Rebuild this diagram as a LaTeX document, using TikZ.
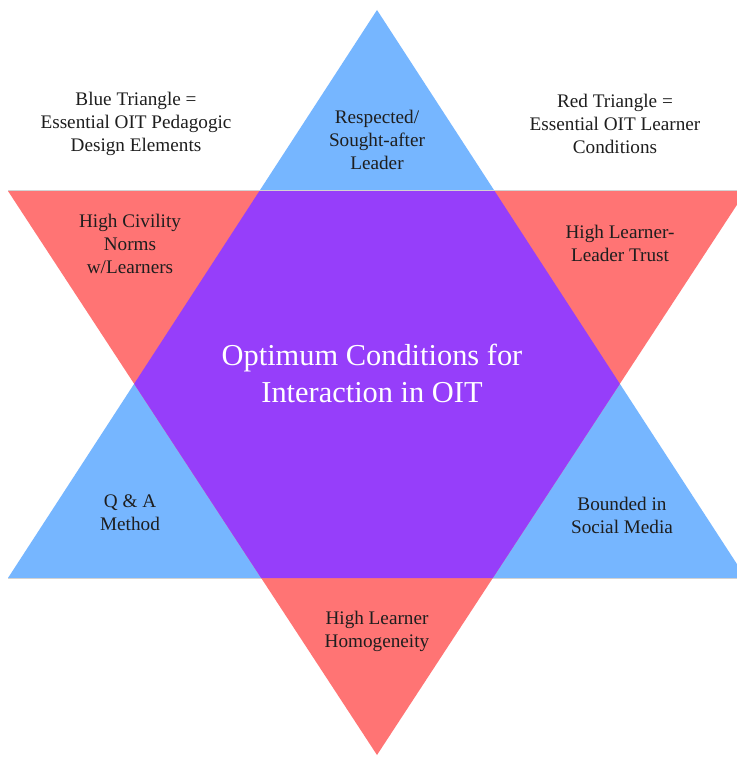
\documentclass[tikz,border=0pt]{standalone}
\usepackage{fontspec}
\setmainfont{Liberation Serif}
\definecolor{bluetri}{RGB}{118,182,255}
\definecolor{redtri}{RGB}{255,116,116}
\definecolor{purp}{RGB}{150,62,250}
\definecolor{txt}{RGB}{30,30,30}
\begin{document}
\begin{tikzpicture}[x=1pt,y=-1pt,
  lbl/.style={align=center,text=txt,font=\fontsize{19.2}{23}\selectfont,inner sep=0pt},
  ctr/.style={align=center,text=white,font=\fontsize{30.4}{37}\selectfont,inner sep=0pt}]
\useasboundingbox (0,0) rectangle (736,757);
\fill[white] (0,0) rectangle (736,757);
% blue triangle
\fill[bluetri] (377,10) -- (8,578) -- (746,578) -- cycle;
\draw[gray!35,line width=0.6pt] (8,578.5) -- (746,578.5);
% red triangle
\fill[redtri] (8,191) -- (746,191) -- (377,755) -- cycle;
\draw[gray!35,line width=0.6pt] (8,190.5) -- (746,190.5);
% purple overlap
\begin{scope}
\clip (377,10) -- (8,578) -- (746,578) -- cycle;
\fill[purp] (8,191) -- (746,191) -- (377,755) -- cycle;
\end{scope}
\node[lbl] (blue) at (136,124) {Blue Triangle =\\Essential OIT Pedagogic\\Design Elements};
\node[lbl] (red) at (615,124) {Red Triangle =\\Essential OIT Learner\\Conditions};
\node[lbl] (top) at (377,140) {Respected/\\Sought-after\\Leader};
\node[lbl] (tl) at (130,244) {High Civility\\Norms\\w/Learners};
\node[lbl] (tr) at (620,243) {High Learner-\\Leader Trust};
\node[ctr] (center) at (372,373) {Optimum Conditions for\\Interaction in OIT};
\node[lbl] (bl) at (130,513) {Q \& A\\Method};
\node[lbl] (br) at (622,515) {Bounded in\\Social Media};
\node[lbl] (bot) at (377,631) {High Learner\\Homogeneity};
\end{tikzpicture}
\end{document}
